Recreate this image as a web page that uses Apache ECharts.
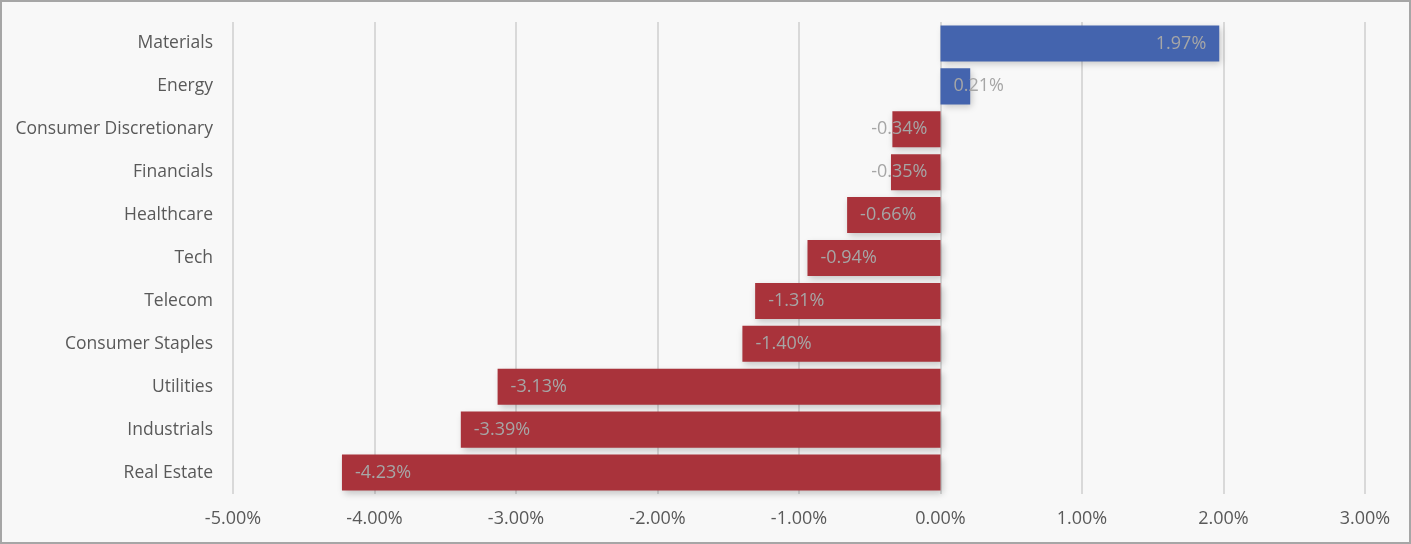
<!DOCTYPE html>
<html>
<head>
<meta charset="utf-8">
<script src="https://cdn.jsdelivr.net/npm/echarts@6/dist/echarts.min.js"></script>
<style>
  html, body { margin: 0; padding: 0; background: #f8f8f8; }
  #chart { width: 1411px; height: 544px; box-sizing: border-box; border: 2px solid #a6a6a6; }
</style>
</head>
<body>
<div id="chart"></div>
<script>
// sectors top to bottom, returns in percent
const sectors = ['Materials', 'Energy', 'Consumer Discretionary', 'Financials', 'Healthcare', 'Tech',
  'Telecom', 'Consumer Staples', 'Utilities', 'Industrials', 'Real Estate'];
const returns = [1.97, 0.21, -0.34, -0.35, -0.66, -0.94, -1.31, -1.40, -3.13, -3.39, -4.23];
const axisMin = -5;
const axisMax = 3;

const chart = echarts.init(document.getElementById('chart'));

const barData = returns.map(v => {
    const small = Math.abs(v) < 0.4;
    let pos;
    if (v >= 0) pos = small ? 'insideLeft' : 'insideRight';
    else pos = small ? 'insideRight' : 'insideLeft';
    return {
        value: v,
        itemStyle: { color: v >= 0 ? '#4464ae' : '#a9333b' },
        label: { position: pos }
    };
});

const option = {
    backgroundColor: '#f8f8f8',
    animation: false,
    grid: { left: 231, right: 44, top: 20, bottom: 48 },
    xAxis: {
        type: 'value',
        min: axisMin,
        max: axisMax,
        interval: 1,
        axisLine: { show: false },
        axisTick: { show: false },
        splitLine: { lineStyle: { color: '#d9d9d9', width: 2 } },
        axisLabel: {
            color: '#595959',
            fontFamily: 'Open Sans',
            fontSize: 18,
            margin: 16,
            formatter: v => v.toFixed(2) + '%'
        }
    },
    yAxis: {
        type: 'category',
        inverse: true,
        data: sectors,
        axisLine: { show: false },
        axisTick: { show: false },
        axisLabel: {
            color: '#595959',
            fontFamily: 'Open Sans',
            fontSize: 17.5,
            margin: 20
        }
    },
    series: [{
        type: 'bar',
        data: barData,
        barWidth: '84%',
        itemStyle: {
            shadowColor: 'rgba(0,0,0,0.22)',
            shadowBlur: 7,
            shadowOffsetX: 2,
            shadowOffsetY: 3
        },
        label: {
            show: true,
            color: '#a6a6a6',
            fontFamily: 'Open Sans',
            fontSize: 18,
            distance: 13,
            formatter: p => p.value.toFixed(2) + '%'
        }
    }]
};

chart.setOption(option);
</script>
</body>
</html>
